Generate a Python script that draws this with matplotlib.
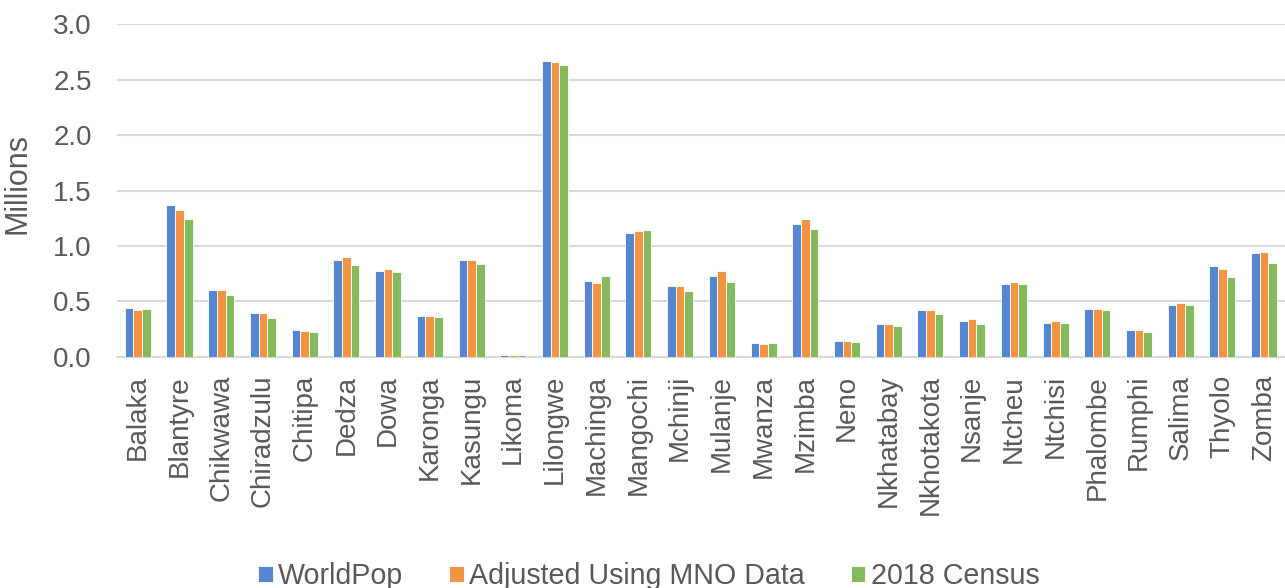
import matplotlib
matplotlib.use("Agg")
import matplotlib.pyplot as plt
import numpy as np

districts = ["Balaka", "Blantyre", "Chikwawa", "Chiradzulu", "Chitipa", "Dedza", "Dowa",
             "Karonga", "Kasungu", "Likoma", "Lilongwe", "Machinga", "Mangochi", "Mchinji",
             "Mulanje", "Mwanza", "Mzimba", "Neno", "Nkhatabay", "Nkhotakota", "Nsanje",
             "Ntcheu", "Ntchisi", "Phalombe", "Rumphi", "Salima", "Thyolo", "Zomba"]
worldpop = [0.439, 1.369, 0.604, 0.396, 0.243, 0.874, 0.778, 0.372, 0.874, 0.014, 2.669,
            0.682, 1.114, 0.637, 0.727, 0.123, 1.198, 0.141, 0.297, 0.420, 0.327, 0.655,
            0.309, 0.432, 0.240, 0.468, 0.817, 0.934]
adjusted = [0.420, 1.321, 0.604, 0.396, 0.237, 0.904, 0.793, 0.369, 0.877, 0.013, 2.660,
            0.664, 1.135, 0.643, 0.772, 0.114, 1.240, 0.141, 0.297, 0.423, 0.342, 0.679,
            0.324, 0.429, 0.240, 0.486, 0.796, 0.943]
census = [0.432, 1.246, 0.559, 0.351, 0.225, 0.826, 0.766, 0.357, 0.838, 0.014, 2.628,
          0.730, 1.144, 0.598, 0.679, 0.123, 1.153, 0.132, 0.279, 0.390, 0.294, 0.655,
          0.309, 0.423, 0.225, 0.471, 0.718, 0.847]
series_names = ["WorldPop", "Adjusted Using MNO Data", "2018 Census"]
yticks = [0.0, 0.5, 1.0, 1.5, 2.0, 2.5, 3.0]

colors = ["#5586D0", "#F39443", "#84BA5B"]
text_color = "#595959"
plt.rcParams["font.family"] = ["Liberation Sans", "DejaVu Sans"]
FS = 20

fig = plt.figure(figsize=(12.85, 5.88), dpi=100)
ax = fig.add_axes([0.091, 0.393, 0.909, 0.566])

x = np.arange(len(districts))
w = 0.208
for i, (vals, name) in enumerate(zip([worldpop, adjusted, census], series_names)):
    ax.bar(x + (i - 1) * w, vals, width=w, color=colors[i], edgecolor="white",
           linewidth=0.6, label=name, zorder=3)

ax.set_xlim(-0.5, len(districts) - 0.5)
ax.set_ylim(0, 3.0)
ax.set_yticks(yticks)
ax.set_yticklabels([f"{t:.1f}" for t in yticks], fontsize=FS, color=text_color)
ax.set_xticks(x)
ax.set_xticklabels(districts, rotation=90, fontsize=FS, color=text_color)
ax.tick_params(axis="both", length=0)
ax.tick_params(axis="x", pad=13)
ax.tick_params(axis="y", pad=18)
ax.grid(axis="y", color="#D9D9D9", linewidth=1.5, zorder=0)
for s in ["top", "right", "left"]:
    ax.spines[s].set_visible(False)
ax.spines["bottom"].set_color("#D9D9D9")
ax.spines["bottom"].set_linewidth(1.5)
ax.set_ylabel("Millions", fontsize=22, color=text_color)
ax.yaxis.set_label_coords(-0.072, 0.52)

fig.legend(loc="center", bbox_to_anchor=(0.505, 0.02), ncol=3, frameon=False,
           fontsize=20.6, handlelength=0.5, handleheight=0.5, handletextpad=0.2,
           columnspacing=1.6, labelcolor=text_color)

fig.savefig("out.png", dpi=100)
